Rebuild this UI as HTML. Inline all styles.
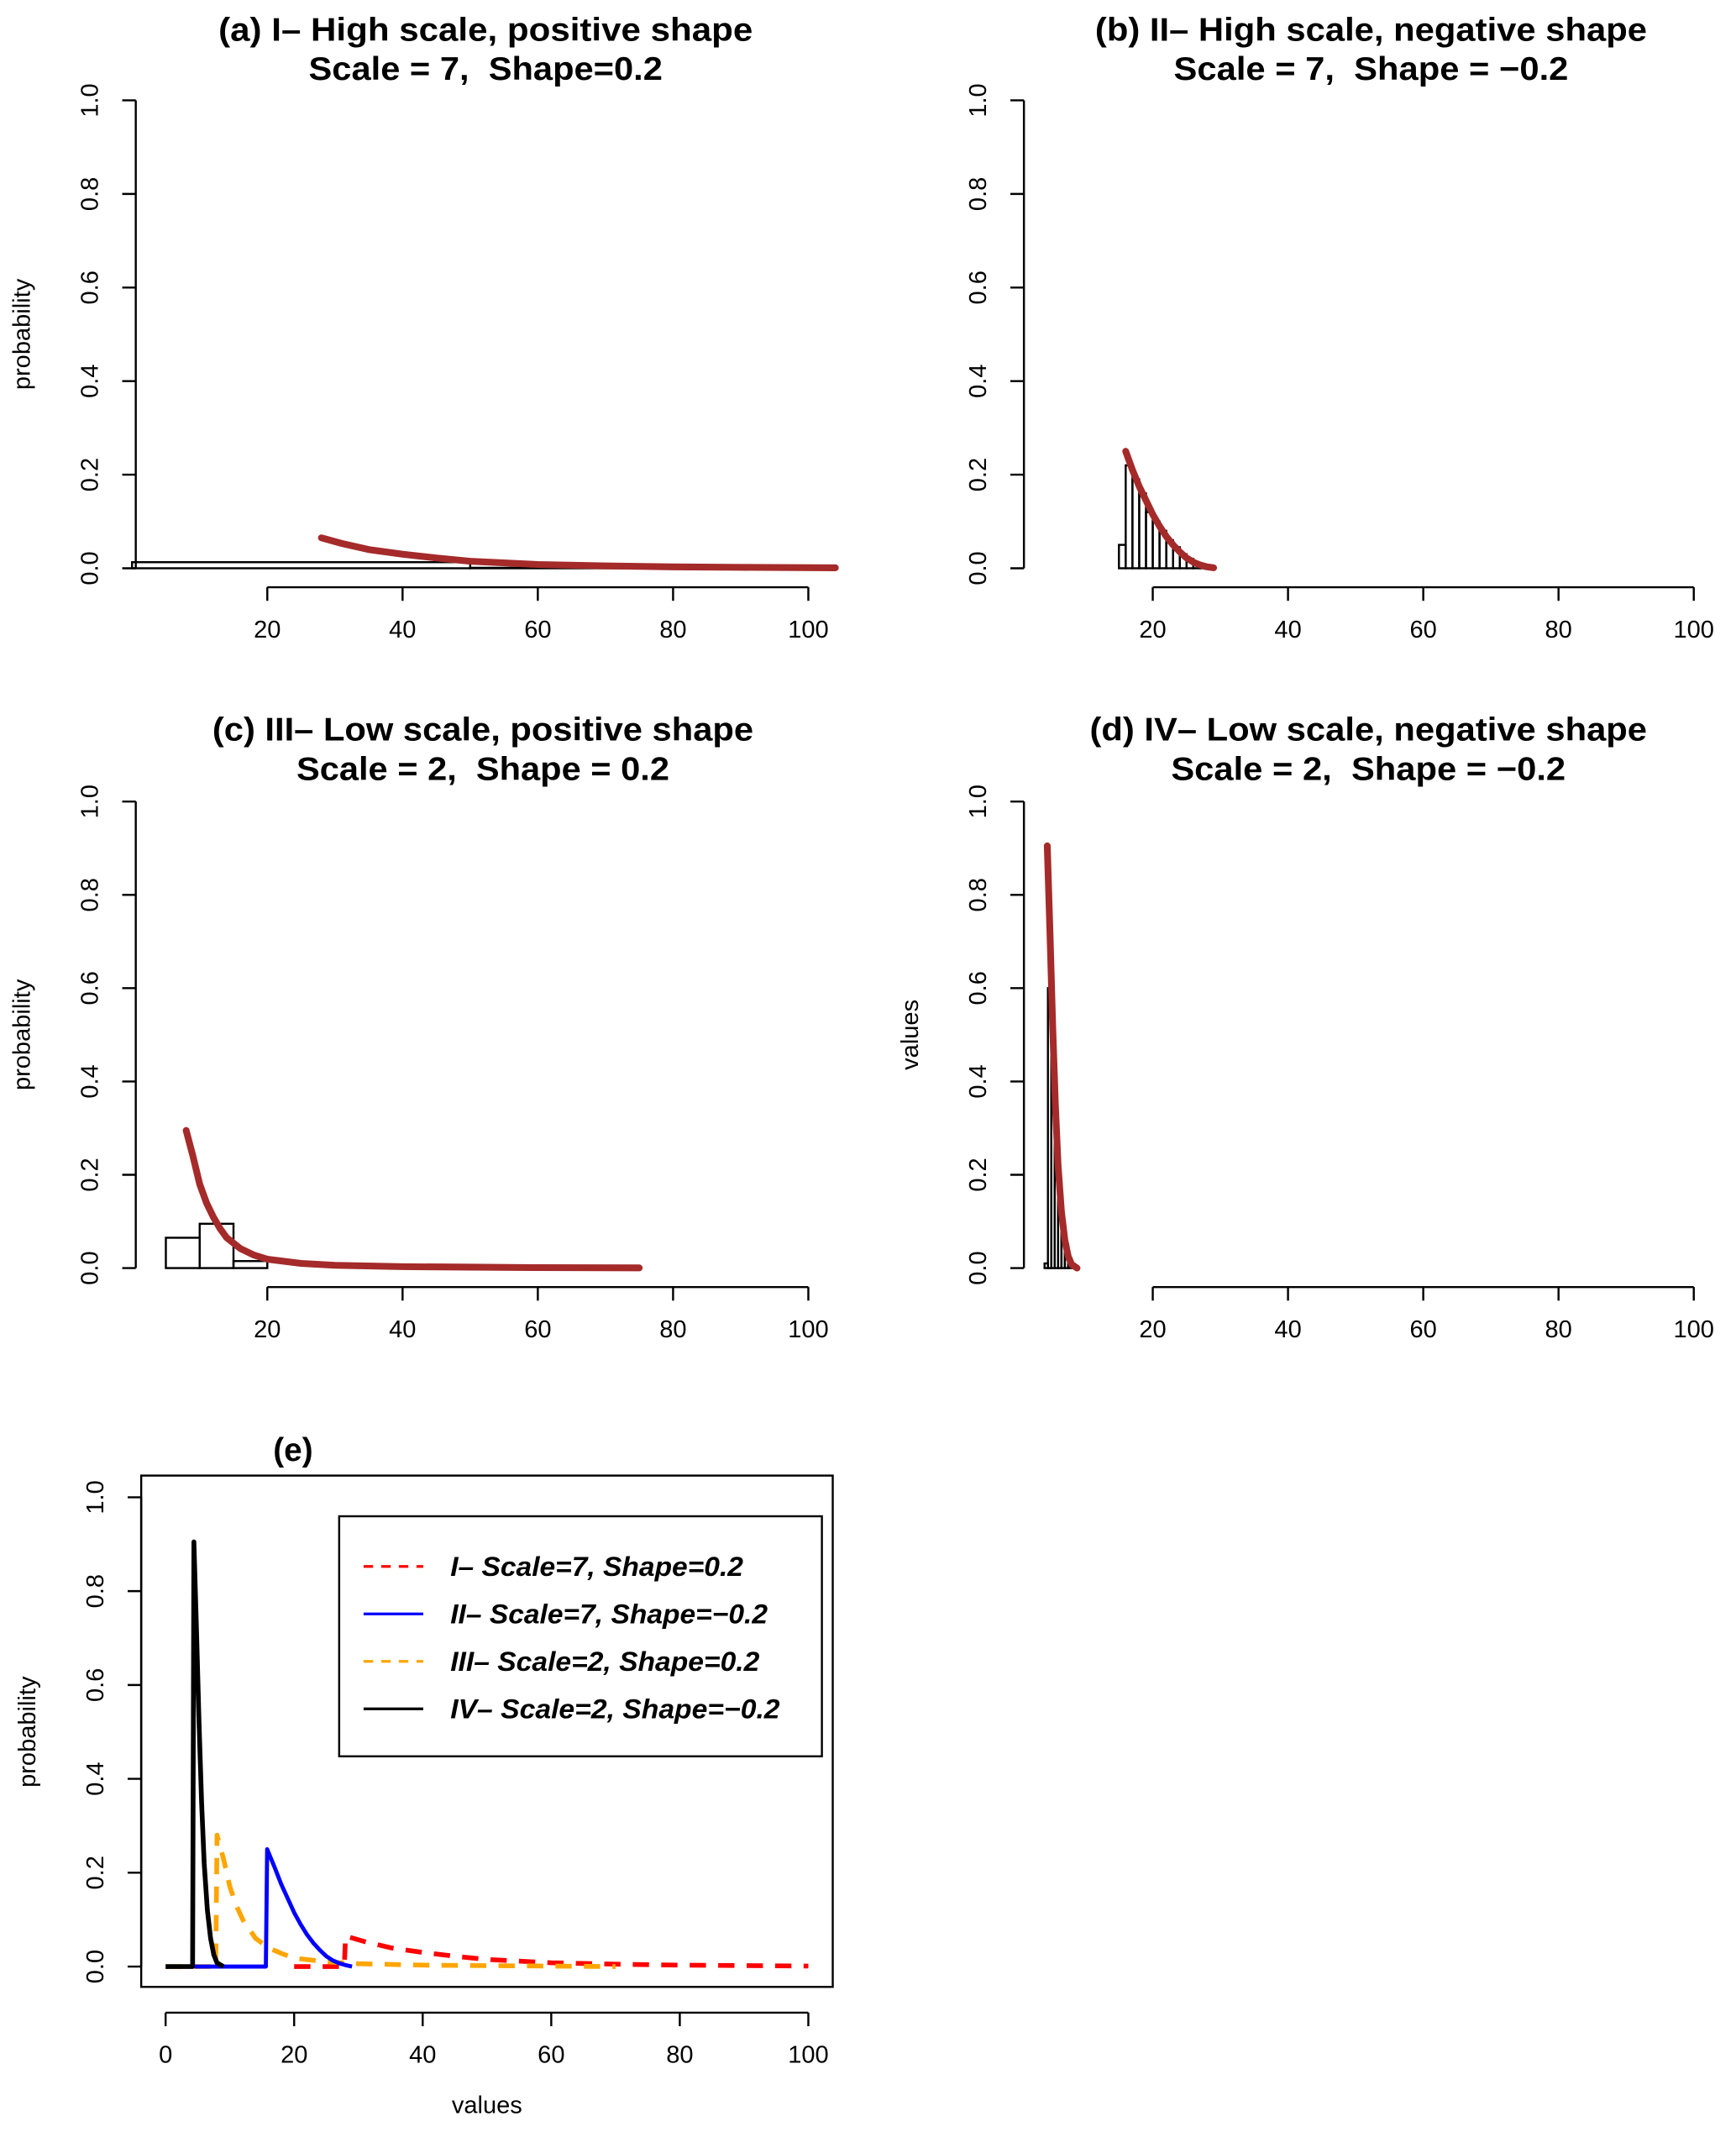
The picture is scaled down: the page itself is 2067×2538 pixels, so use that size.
<!DOCTYPE html>
<html><head><meta charset="utf-8"><style>
html,body{margin:0;padding:0;background:#fff}
svg{display:block}
text{font-family:"Liberation Sans",Helvetica,sans-serif;fill:#000;white-space:pre}
</style></head><body>
<svg id="chart" width="2067" height="2538" viewBox="0 0 1280 1572" xmlns="http://www.w3.org/2000/svg"></svg>
<script>
// ---- data ----
const yTicks = [0, 0.2, 0.4, 0.6, 0.8, 1.0];
const yTickLabels = ["0.0","0.2","0.4","0.6","0.8","1.0"];
const xTicksAC = [20,40,60,80,100];
const xTicksE = [0,20,40,60,80,100];
// panel a
const histAEdges = [0,50,100];
const histAValues = [0.013,0.001];
const curveAX = [28,31,35,40,45,50,60,70,80,90,104];
const curveAY = [0.065,0.053,0.04,0.03,0.022,0.015,0.008,0.005,0.003,0.002,0.001];
// panel b
const histBEdges = [15,16,17,18,19,20,21,22,23,24,25,26,27,28,29];
const histBValues = [0.05,0.22,0.19,0.16,0.12,0.1,0.08,0.06,0.045,0.03,0.02,0.012,0.006,0.002];
const curveBX = [16,17,18,19,20,21,22,23,24,25,26,27,28,29];
const curveBY = [0.25,0.21,0.175,0.145,0.115,0.09,0.068,0.05,0.035,0.022,0.013,0.007,0.003,0.001];
// panel c
const histCEdges = [5,10,15,20];
const histCValues = [0.065,0.095,0.015];
const curveCX = [8,9,10,11,12,13,14,16,18,20,25,30,40,50,60,75];
const curveCY = [0.295,0.24,0.18,0.14,0.11,0.085,0.065,0.042,0.028,0.019,0.01,0.006,0.003,0.002,0.001,0.0005];
// panel d
const histDEdges = [4,4.5,5,5.5,6,6.5,7,7.5,8];
const histDValues = [0.01,0.6,0.45,0.3,0.18,0.1,0.05,0.02];
const curveDX = [4.4,4.8,5.2,5.6,6,6.5,7,7.5,8,8.8];
const curveDY = [0.905,0.72,0.52,0.35,0.22,0.12,0.06,0.025,0.008,0.0];
// panel e series
const eRedX = [20,27.8,28,31,35,40,45,50,60,70,80,90,100];
const eRedY = [0,0,0.065,0.053,0.04,0.03,0.022,0.015,0.008,0.005,0.003,0.002,0.001];
const eBlueX = [4.5,15.6,15.8,17,18,19,20,21,22,23,24,25,26,27,28,29];
const eBlueY = [0,0,0.25,0.21,0.175,0.145,0.115,0.09,0.068,0.05,0.035,0.022,0.013,0.007,0.003,0];
const eOrangeX = [0,7.8,8,9,10,11,12,13,14,16,18,20,25,30,40,50,60,70];
const eOrangeY = [0,0,0.28,0.23,0.17,0.13,0.1,0.08,0.06,0.04,0.028,0.018,0.01,0.006,0.003,0.002,0.001,0];
const eBlackX = [0,4.2,4.4,4.8,5.2,5.6,6,6.5,7,7.5,8,9];
const eBlackY = [0,0,0.905,0.72,0.52,0.35,0.22,0.12,0.06,0.025,0.008,0];
const legendLabels = ["I\u2013 Scale=7, Shape=0.2","II\u2013 Scale=7, Shape=\u22120.2","III\u2013 Scale=2, Shape=0.2","IV\u2013 Scale=2, Shape=\u22120.2"];

const NS="http://www.w3.org/2000/svg";
const svg=document.getElementById('chart');
function mk(tag,attrs,parent){const e=document.createElementNS(NS,tag);for(const k in attrs)e.setAttribute(k,attrs[k]);(parent||svg).appendChild(e);return e;}
function txt(s,attrs,parent){const t=mk('text',attrs,parent);t.textContent=s;return t;}

function panel(cfg){
  const g=mk('g',{});
  
  
  const sx=v=>cfg.x0+(v-cfg.xv0)*cfg.kx;
  const sy=v=>cfg.y0-v*cfg.ky;
  cfg.titles.forEach((t,i)=>{
    const a={x:cfg.tx,y:cfg.ty+i*29,'text-anchor':'middle','font-size':24,'font-weight':'bold'};
    if(cfg.tw&&cfg.tw[i]){a.textLength=cfg.tw[i];a.lengthAdjust='spacingAndGlyphs';}
    const e=txt(t,a,g);
    
    });
  const ya=mk('g',{},g);
  
  
  mk('line',{x1:cfg.yax,x2:cfg.yax,y1:sy(0),y2:sy(1),stroke:'#000','stroke-width':1.5},ya);
  yTicks.forEach((v,i)=>{
    mk('line',{x1:cfg.yax-10,x2:cfg.yax,y1:sy(v),y2:sy(v),stroke:'#000','stroke-width':1.5},ya);
    const lx=cfg.yax-28;
    const t=txt(yTickLabels[i],{x:lx,y:sy(v),'text-anchor':'middle','font-size':18,transform:`rotate(-90 ${lx} ${sy(v)})`},ya);
    
    
  });
  if(cfg.ylabel){const lx=cfg.yax-78,ly=sy(0.5);
    const t=txt(cfg.ylabel,{x:lx,y:ly,'text-anchor':'middle','font-size':18,transform:`rotate(-90 ${lx} ${ly})`},g);
    
    }
  const xa=mk('g',{},g);
  
  
  const xt=cfg.xticks;
  mk('line',{x1:sx(xt[0]),x2:sx(xt[xt.length-1]),y1:cfg.xay,y2:cfg.xay,stroke:'#000','stroke-width':1.5},xa);
  xt.forEach(v=>{
    mk('line',{x1:sx(v),x2:sx(v),y1:cfg.xay,y2:cfg.xay+10,stroke:'#000','stroke-width':1.5},xa);
    const t=txt(String(v),{x:sx(v),y:cfg.xay+37,'text-anchor':'middle','font-size':18},xa);
    
    
  });
  return {g,sx,sy};
}
function hist(p,edges,vals){
  vals.forEach((v,i)=>{
    const r=mk('rect',{x:p.sx(edges[i]),y:p.sy(v),width:p.sx(edges[i+1])-p.sx(edges[i]),height:p.sy(0)-p.sy(v),fill:'none',stroke:'#000','stroke-width':1.5},p.g);
    
    
  });
}
function line(p,xs,ys,attrs,name){
  const d=xs.map((x,i)=>(i?'L':'M')+p.sx(x).toFixed(2)+' '+p.sy(ys[i]).toFixed(2)).join(' ');
  const e=mk('path',Object.assign({d:d,fill:'none','stroke-linejoin':'round'},attrs),p.g);
  
  
  return e;
}
const brown={stroke:'#a52a2a','stroke-width':5,'stroke-linecap':'round'};
const kAC=(596-197)/80, kY=(419-74);

const pa=panel({name:'panel-a',titles:['(a) I\u2013 High scale, positive shape','Scale = 7,  Shape=0.2'],tw:[394,261],tx:358,ty:30,
  x0:197,xv0:20,kx:kAC,y0:419,ky:kY,yax:100,xay:433,xticks:xTicksAC,ylabel:'probability'});
hist(pa,histAEdges,histAValues);
line(pa,curveAX,curveAY,brown,'density-curve');

const pb=panel({name:'panel-b',titles:['(b) II\u2013 High scale, negative shape','Scale = 7,  Shape = \u22120.2'],tw:[407,291],tx:1011,ty:30,
  x0:850,xv0:20,kx:kAC,y0:419,ky:kY,yax:755,xay:433,xticks:xTicksAC});
hist(pb,histBEdges,histBValues);
line(pb,curveBX,curveBY,brown,'density-curve');

const pc=panel({name:'panel-c',titles:['(c) III\u2013 Low scale, positive shape','Scale = 2,  Shape = 0.2'],tw:[399,275],tx:356,ty:546,
  x0:197,xv0:20,kx:kAC,y0:935,ky:935-591,yax:100,xay:949,xticks:xTicksAC,ylabel:'probability'});
hist(pc,histCEdges,histCValues);
line(pc,curveCX,curveCY,brown,'density-curve');

const pd=panel({name:'panel-d',titles:['(d) IV\u2013 Low scale, negative shape','Scale = 2,  Shape = \u22120.2'],tw:[411,291],tx:1009,ty:546,
  x0:850,xv0:20,kx:kAC,y0:935,ky:935-591,yax:755,xay:949,xticks:xTicksAC,ylabel:'values'});
hist(pd,histDEdges,histDValues);
line(pd,curveDX,curveDY,brown,'density-curve');

const pe=panel({name:'panel-e',titles:['(e)'],tx:216,ty:1077,
  x0:122,xv0:0,kx:(596-122)/100,y0:1450,ky:1450-1104,yax:104,xay:1484,xticks:xTicksE,ylabel:'probability'});
const box=mk('rect',{x:104,y:1088,width:510,height:377,fill:'none',stroke:'#000','stroke-width':1.5},pe.g);


const xl=txt('values',{x:359,y:1558,'text-anchor':'middle','font-size':18},pe.g);


line(pe,eRedX,eRedY,{stroke:'#ff0000','stroke-width':3.5,'stroke-dasharray':'12 9'},'series-I-red');
line(pe,eOrangeX,eOrangeY,{stroke:'#ffa500','stroke-width':3.5,'stroke-dasharray':'12 9'},'series-III-orange');
line(pe,eBlueX,eBlueY,{stroke:'#0000ff','stroke-width':3},'series-II-blue');
line(pe,eBlackX,eBlackY,{stroke:'#000','stroke-width':3.5},'series-IV-black');
const lg=mk('g',{});


mk('rect',{x:250,y:1118,width:356,height:177,fill:'#fff',stroke:'#000','stroke-width':1.5},lg);
const lcol=['#ff0000','#0000ff','#ffa500','#000'];
const ldash=['7 6','','7 6',''];
const lw=[216,234,228,243];
legendLabels.forEach((s,i)=>{
  const y=1155+i*35;
  const a={x1:268,x2:312,y1:y,y2:y,stroke:lcol[i],'stroke-width':2};
  if(ldash[i])a['stroke-dasharray']=ldash[i];
  const l=mk('line',a,lg);
  
  
  const t=txt(s,{x:332,y:y+7,'font-size':20,'font-weight':'bold','font-style':'italic',textLength:lw[i],lengthAdjust:'spacingAndGlyphs'},lg);
  
  
});
</script>
</body></html>
